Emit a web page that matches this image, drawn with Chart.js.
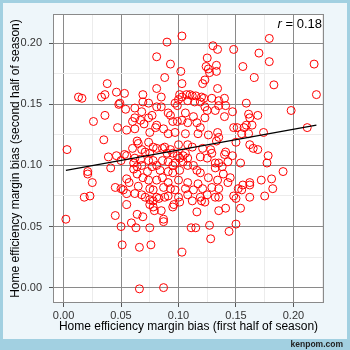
<!DOCTYPE html>
<html><head><meta charset="utf-8">
<script src="https://cdn.jsdelivr.net/npm/chart.js@4/dist/chart.umd.min.js"></script>
<style>html,body{margin:0;padding:0;background:#eef6fa;}canvas{display:block}</style>
</head><body><canvas id="c" width="350" height="350"></canvas>
<script>
// First-half home efficiency margin bias (x) and second-half (y), one entry per team
const xFirstHalf = [
  0.103,0.090,0.081,0.093,0.102,0.088,0.081,0.069,0.085,0.103,
  0.130,0.134,0.125,0.124,0.126,0.127,0.133,0.133,0.121,0.123,
  0.134,0.101,0.103,0.107,0.110,0.112,0.115,0.120,0.122,0.129,
  0.135,0.100,0.114,0.038,0.013,0.016,0.033,0.036,0.046,0.053,
  0.049,0.179,0.148,0.170,0.156,0.179,0.166,0.183,0.140,0.159,
  0.218,0.220,0.198,0.212,
  0.048,0.054,0.036,0.026,0.062,0.060,0.047,0.055,0.062,0.035,
  0.003,0.064,0.065,0.060,0.039,0.046,0.053,0.055,0.062,0.050,
  0.041,0.021,0.021,0.061,0.061,0.064,0.055,0.064,0.057,0.025,
  0.045,0.050,0.052,0.062,0.018,0.023,0.055,
  0.055,0.002,0.045,0.050,0.059,0.063,0.064,0.051,0.066,0.066,
  0.075,0.078,0.075,0.078,0.081,0.083,0.091,0.085,0.079,0.101,
  0.096,0.095,0.112,0.120,0.123,0.135,0.116,0.069,0.087,0.087,
  0.075,0.111,0.115,0.127,0.128,0.076,0.103,0.087,
  0.150,0.162,0.175,0.135,0.141,0.154,0.150,0.144,
  0.135,0.141,0.140,0.147,0.161,0.162,0.169,0.164,0.148,0.151,
  0.157,0.159,0.155,0.161,0.174,0.135,0.133,0.150,0.162,0.165,
  0.169,0.140,0.141,0.147,0.178,0.132,0.135,0.143,0.154,0.177,
  0.191,0.138,0.139,0.145,0.143,0.162,0.162,0.172,0.181,0.182,
  0.156,0.135,0.152,0.155,0.148,
  0.069,0.074,0.081,0.085,0.097,0.099,0.108,0.119,0.123,0.125,
  0.132,0.062,0.068,0.067,0.070,0.077,0.074,0.091,0.093,0.095,
  0.099,0.103,0.106,0.108,0.113,0.116,0.123,0.081,0.080,0.075,
  0.087,0.091,0.097,0.106,0.119,0.117,0.126,0.134,0.074,0.078,
  0.081,0.086,0.088,0.093,0.100,0.108,0.112,0.121,0.128,0.068,
  0.071,0.075,0.090,0.095,0.099,0.104,0.106,0.101,0.108,0.067,
  0.074,0.078,0.086,0.091,0.081,0.077,0.068,0.095,0.097,0.104,
  0.108,0.113,0.119,0.125,0.129,0.073,0.084,0.091,0.095,0.101,
  0.116,0.119,0.132,0.126,0.069,0.074,0.081,0.086,0.091,0.100,
  0.108,0.117,0.134,0.065,0.075,0.078,0.087,0.093,0.097,0.106,
  0.113,0.121,0.129,0.068,0.071,0.088,0.100,0.108,0.119,0.125,
  0.132
];
const ySecondHalf = [
  0.206,0.201,0.189,0.183,0.177,0.172,0.163,0.158,0.156,0.167,
  0.198,0.195,0.188,0.181,0.179,0.176,0.182,0.177,0.167,0.170,
  0.163,0.158,0.156,0.158,0.158,0.157,0.157,0.156,0.155,0.155,
  0.153,0.154,0.152,0.167,0.156,0.155,0.156,0.158,0.160,0.159,
  0.151,0.204,0.195,0.192,0.181,0.185,0.172,0.166,0.155,0.151,
  0.183,0.158,0.145,0.131,
  0.150,0.146,0.141,0.136,0.139,0.136,0.131,0.129,0.130,0.121,
  0.113,0.120,0.118,0.114,0.107,0.108,0.109,0.108,0.106,0.104,
  0.098,0.095,0.093,0.102,0.097,0.099,0.089,0.093,0.086,0.086,
  0.082,0.081,0.080,0.077,0.074,0.075,0.077,
  0.068,0.056,0.059,0.050,0.053,0.049,0.060,0.035,0.033,-0.001,
  0.072,0.071,0.068,0.066,0.074,0.073,0.075,0.063,0.063,0.070,
  0.068,0.066,0.071,0.071,0.070,0.074,0.062,0.058,0.056,0.054,
  0.049,0.049,0.049,0.051,0.040,0.035,0.029,0.000,
  0.073,0.074,0.075,0.063,0.065,0.065,0.052,0.046,
  0.149,0.149,0.140,0.144,0.142,0.139,0.141,0.133,0.131,0.131,
  0.131,0.133,0.126,0.126,0.127,0.123,0.120,0.119,0.117,0.114,
  0.113,0.109,0.111,0.108,0.108,0.102,0.102,0.103,0.102,0.102,
  0.095,0.099,0.093,0.090,0.086,0.086,0.084,0.088,0.089,0.081,
  0.084,0.081,0.081,0.080,0.075,
  0.152,0.151,0.148,0.148,0.151,0.149,0.153,0.152,0.148,0.145,
  0.145,0.147,0.144,0.137,0.134,0.141,0.139,0.143,0.141,0.136,
  0.136,0.137,0.143,0.135,0.140,0.135,0.139,0.133,0.131,0.127,
  0.130,0.126,0.127,0.126,0.131,0.126,0.125,0.127,0.119,0.115,
  0.114,0.114,0.115,0.113,0.117,0.117,0.115,0.114,0.113,0.113,
  0.111,0.110,0.110,0.110,0.108,0.108,0.110,0.106,0.106,0.105,
  0.104,0.104,0.104,0.103,0.100,0.099,0.100,0.100,0.102,0.103,
  0.100,0.100,0.107,0.106,0.110,0.095,0.096,0.095,0.094,0.096,
  0.096,0.094,0.098,0.090,0.090,0.088,0.088,0.090,0.086,0.088,
  0.086,0.085,0.088,0.083,0.081,0.080,0.082,0.081,0.080,0.081,
  0.080,0.081,0.082,0.076,0.074,0.074,0.074,0.076,0.074,0.076,
  0.074
];
// Fitted line, read at its two ends
const fitX = [0.002, 0.220];
const fitY = [0.096, 0.133];
const tickLabels = ['0.00', '0.05', '0.10', '0.15', '0.20'];
const rText = '0.18';

const FONT = "'Liberation Sans', Arial, sans-serif";
const isMajor = v => Math.abs(v * 20 - Math.round(v * 20)) < 1e-6;
const labelFor = v => isMajor(v) ? (tickLabels[Math.round(v * 20)] || '') : '';
const gridColor = c => (c.tick && isMajor(c.tick.value)) ? '#8a8a8a' : '#ececec';
const tickColor = c => (c.tick && isMajor(c.tick.value)) ? '#555' : 'rgba(0,0,0,0)';

const bgPlugin = {
  id: 'bg',
  beforeDraw(chart) {
    const {ctx, chartArea: a} = chart;
    ctx.save();
    ctx.fillStyle = '#a2d0e1'; ctx.fillRect(0, 0, 350, 350);
    ctx.fillStyle = '#eef6fa'; ctx.fillRect(3, 3, 344, 336);
    ctx.fillStyle = '#ffffff'; ctx.fillRect(a.left, a.top, a.right - a.left, a.bottom - a.top);
    ctx.restore();
  },
  beforeDatasetsDraw(chart) {
    const {ctx, chartArea: a} = chart;
    ctx.save();
    ctx.strokeStyle = '#8a8a8a'; ctx.lineWidth = 1;
    ctx.strokeRect(a.left + 0.5, a.top + 0.5, a.right - a.left - 1, a.bottom - a.top - 1);
    ctx.restore();
  },
  afterDraw(chart) {
    const {ctx, chartArea: a} = chart;
    ctx.save();
    ctx.fillStyle = '#000';
    ctx.textBaseline = 'alphabetic';
    ctx.font = "13px " + FONT;
    const rest = ' = ' + rText;
    const w2 = ctx.measureText(rest).width;
    ctx.font = "italic 13px " + FONT;
    const w1 = ctx.measureText('r').width;
    const xEnd = a.right - 2;
    ctx.fillText('r', xEnd - w2 - w1, 28);
    ctx.font = "13px " + FONT;
    ctx.fillText(rest, xEnd - w2, 28);
    ctx.font = "bold 8.5px " + FONT;
    ctx.fillStyle = '#222';
    ctx.textAlign = 'right';
    ctx.fillText('kenpom.com', 343, 347);
    ctx.restore();
  }
};

new Chart(document.getElementById('c'), {
  type: 'scatter',
  data: {
    datasets: [
      {
        type: 'line',
        data: fitX.map((x, i) => ({x, y: fitY[i]})),
        borderColor: '#000', borderWidth: 1.3, pointRadius: 0, fill: false
      },
      {
        data: xFirstHalf.map((x, i) => ({x, y: ySecondHalf[i]})),
        pointStyle: 'circle', pointRadius: 4, borderWidth: 1,
        borderColor: '#ff0000', backgroundColor: 'rgba(0,0,0,0)'
      }
    ]
  },
  options: {
    responsive: false, animation: false, devicePixelRatio: 1,
    layout: {padding: {left: 0, top: 14, right: 26, bottom: 0}},
    plugins: {legend: {display: false}, tooltip: {enabled: false}},
    scales: {
      x: {
        type: 'linear', min: -0.0092, max: 0.2266,
        afterFit(s) { s.height = 47; },
        ticks: {stepSize: 0.025, includeBounds: false, autoSkip: false, maxRotation: 0,
                padding: 2, color: '#333', font: {family: FONT, size: 11}, callback: v => labelFor(v)},
        grid: {color: gridColor, tickColor: tickColor, tickLength: 4, lineWidth: 1},
        border: {display: false},
        title: {display: true, text: 'Home efficiency margin bias (first half of season)',
                color: '#000', font: {family: FONT, size: 12}, padding: {top: 0, bottom: 16}}
      },
      y: {
        type: 'linear', min: -0.0126, max: 0.224,
        afterFit(s) { s.width = 53; },
        ticks: {stepSize: 0.025, includeBounds: false, autoSkip: false,
                padding: 7, color: '#333', font: {family: FONT, size: 11}, callback: v => labelFor(v)},
        grid: {color: gridColor, tickColor: tickColor, tickLength: 4, lineWidth: 1},
        border: {display: false},
        title: {display: true, text: 'Home efficiency margin bias (second half of season)',
                color: '#000', font: {family: FONT, size: 12}, padding: {top: 8, bottom: 0}}
      }
    }
  },
  plugins: [bgPlugin]
});
</script>
</body></html>
